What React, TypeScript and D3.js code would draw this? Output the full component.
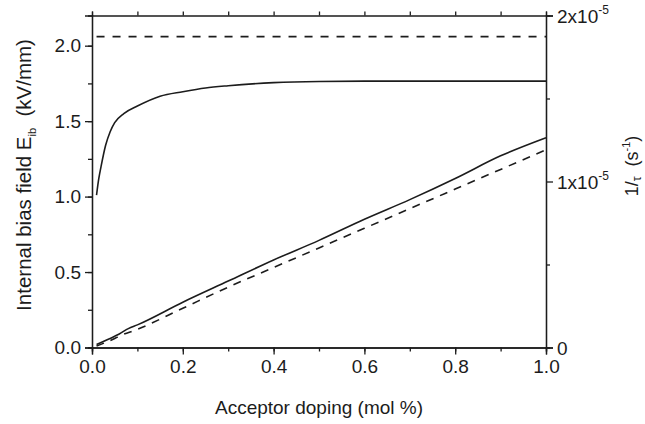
import React, { useRef, useEffect } from 'react';
import * as d3 from 'd3';

/* acceptor doping (mol %) on x, internal bias field (kV/mm) on the left axis */
const dopingRef = [0.01, 1.0];
const fieldRef = [2.06, 2.06];

const dopingSat = [0.01, 0.015, 0.02, 0.03, 0.04, 0.05, 0.07, 0.1, 0.15, 0.2, 0.25, 0.3, 0.4, 0.5, 0.6, 0.8, 1.0];
const fieldSat = [1.01, 1.12, 1.2, 1.34, 1.43, 1.49, 1.55, 1.6, 1.665, 1.695, 1.72, 1.735, 1.755, 1.763, 1.765, 1.765, 1.765];

const dopingLin = [0.01, 0.05, 0.06, 0.08, 0.1, 0.2, 0.3, 0.4, 0.5, 0.6, 0.7, 0.8, 0.9, 1.0];
const fieldLin = [0.02, 0.075, 0.09, 0.125, 0.15, 0.3, 0.44, 0.58, 0.71, 0.85, 0.98, 1.12, 1.27, 1.39];

const dopingLinDash = [0.01, 0.05, 0.06, 0.1, 0.2, 0.3, 0.4, 0.5, 0.6, 0.7, 0.8, 0.9, 1.0];
const fieldLinDash = [0.01, 0.06, 0.075, 0.12, 0.26, 0.4, 0.53, 0.66, 0.79, 0.92, 1.05, 1.18, 1.31];

const xTicks = [0, 0.2, 0.4, 0.6, 0.8, 1.0];
const yTicks = [0, 0.5, 1.0, 1.5, 2.0];
const rightTicks = [0, 1e-5, 2e-5];
const rightLabels = [['0', ''], ['1x10', '-5'], ['2x10', '-5']];

const W = 645;
const H = 424;
const left = 92, right = 546, top = 15.5, bottom = 347.5;
const ink = '#1c1c1c';
const font = '"Liberation Sans", Arial, sans-serif';

const App = () => {
    const svgRef = useRef(null);

    const x = d3.scaleLinear().domain([0, 1.0]).range([left, right]);
    const y = d3.scaleLinear().domain([0, 2.2]).range([bottom, top]);
    const yR = d3.scaleLinear().domain([0, 2e-5]).range([bottom, top]);

    const line = d3.line().x(d => x(d[0])).y(d => y(d[1])).curve(d3.curveMonotoneX);
    const pts = (xs, ys) => xs.map((v, i) => [v, ys[i]]);

    useEffect(() => {
        const svg = d3.select(svgRef.current);
        const minorX = d3.range(0, 1.01, 0.1);
        const minorY = d3.range(0, 2.21, 0.25);

        /* bottom: major + minor */
        svg.select('.x-axis')
            .attr('transform', `translate(0,${bottom})`)
            .call(d3.axisBottom(x).tickValues(xTicks).tickSizeOuter(0).tickSize(7).tickPadding(5).tickFormat(d3.format('.1f')));
        svg.select('.x-minor')
            .attr('transform', `translate(0,${bottom})`)
            .call(d3.axisBottom(x).tickValues(minorX).tickSizeOuter(0).tickSize(4).tickFormat(''));
        svg.select('.x-top')
            .attr('transform', `translate(0,${top})`)
            .call(d3.axisTop(x).tickValues(minorX).tickSizeOuter(0).tickSize(4).tickFormat(''));

        svg.select('.y-axis')
            .attr('transform', `translate(${left},0)`)
            .call(d3.axisLeft(y).tickValues(yTicks).tickSizeOuter(0).tickSize(7).tickPadding(4).tickFormat(d3.format('.1f')));
        svg.select('.y-minor')
            .attr('transform', `translate(${left},0)`)
            .call(d3.axisLeft(y).tickValues(minorY).tickSizeOuter(0).tickSize(4).tickFormat(''));

        svg.select('.yr-axis')
            .attr('transform', `translate(${right},0)`)
            .call(d3.axisRight(yR).tickValues(rightTicks).tickSizeOuter(0).tickSize(7).tickFormat(''));
        svg.select('.yr-minor')
            .attr('transform', `translate(${right},0)`)
            .call(d3.axisRight(yR).tickValues([0.5e-5, 1.5e-5]).tickSizeOuter(0).tickSize(4).tickFormat(''));

        svg.selectAll('.axis path, .axis line').attr('stroke', ink).attr('stroke-width', 1.3);
        svg.selectAll('.axis text').attr('fill', ink).style('font-family', font).style('font-size', '19px');
    }, []);

    return (
        <svg ref={svgRef} width={W} height={H} style={{ display: 'block', position: 'absolute', left: 0, top: 0 }}>
            <rect x={0} y={0} width={W} height={H} fill='#fff' />
            <g className='axis x-axis' />
            <g className='axis x-minor' />
            <g className='axis x-top' />
            <g className='axis y-axis' />
            <g className='axis y-minor' />
            <g className='axis yr-axis' />
            <g className='axis yr-minor' />

            {/* right tick labels with exponents */}
            {rightTicks.map((v, i) => (
                <text key={i} x={right + 11} y={yR(v) + 7} fill={ink} style={{ fontFamily: font, fontSize: 19 }}>
                    {rightLabels[i][0]}
                    {rightLabels[i][1] && <tspan dy={-9} style={{ fontSize: 12 }}>{rightLabels[i][1]}</tspan>}
                </text>
            ))}

            <path d={line(pts(dopingRef, fieldRef))} fill='none' stroke={ink} strokeWidth={1.6} strokeDasharray='8,8' />
            <path d={line(pts(dopingSat, fieldSat))} fill='none' stroke={ink} strokeWidth={1.6} />
            <path d={line(pts(dopingLin, fieldLin))} fill='none' stroke={ink} strokeWidth={1.6} />
            <path d={line(pts(dopingLinDash, fieldLinDash))} fill='none' stroke={ink} strokeWidth={1.6} strokeDasharray='8,7' />

            <text x={(left + right) / 2} y={414} textAnchor='middle' fill={ink} style={{ fontFamily: font, fontSize: 19 }}>
                Acceptor doping (mol %)
            </text>
            <text transform={`translate(31,175) rotate(-90)`} textAnchor='middle' fill={ink} style={{ fontFamily: font, fontSize: 20.5 }}>
                Internal bias field E<tspan dy={5} style={{ fontSize: 11 }}>ib</tspan><tspan dy={-5}>{'\u00a0\u00a0(kV/mm)'}</tspan>
            </text>
            <text transform={`translate(638,166) rotate(-90)`} textAnchor='middle' fill={ink} style={{ fontFamily: font, fontSize: 18 }}>
                1/<tspan dy={3} style={{ fontSize: 12 }}>τ</tspan><tspan dy={-3}>{'\u00a0\u00a0(s'}</tspan><tspan dy={-8} style={{ fontSize: 11 }}>-1</tspan><tspan dy={8}>)</tspan>
            </text>
        </svg>
    );
};

export default App;
